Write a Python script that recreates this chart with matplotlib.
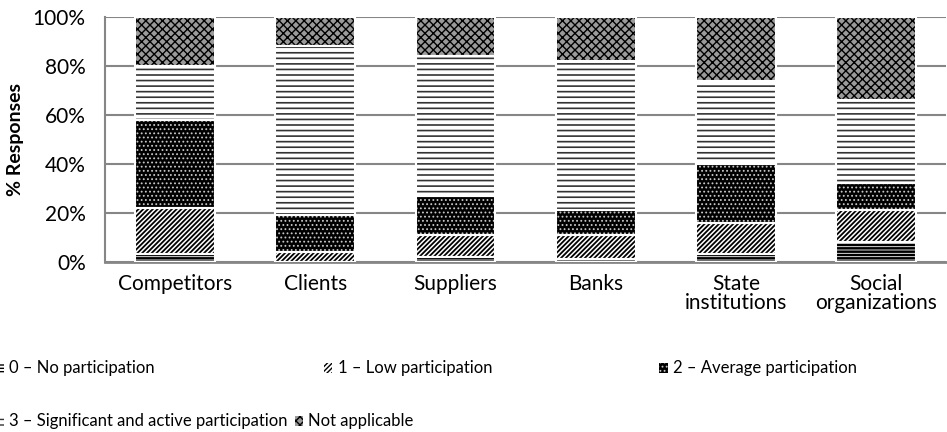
import numpy as np
import matplotlib.pyplot as plt
from matplotlib.patches import Rectangle

categories = ['Competitors', 'Clients', 'Suppliers', 'Banks', 'State\ninstitutions', 'Social\norganizations']
no_part = [3, 0, 2, 1, 3, 8]
low_part = [19, 4, 9, 10, 13, 13]
avg_part = [36, 15, 16, 10, 24, 11]
sig_part = [22, 69, 57, 61, 34, 34]
not_appl = [20, 12, 16, 18, 26, 34]

series = [no_part, low_part, avg_part, sig_part, not_appl]
labels = ['0 \u2013 No participation', '1 \u2013 Low participation', '2 \u2013 Average participation',
          '3 \u2013 Significant and active participation', 'Not applicable']
# face, hatch, hatch colour, hatch linewidth
styles = [
    ('white', '-----', 'black', 1.8),
    ('white', '///////', 'black', 1.3),
    ('black', '....', '#c8c8c8', 0.8),
    ('white', '---', '#333333', 1.2),
    ('#9a9a9a', 'xxxx', 'black', 1.0),
]

plt.rcParams['font.family'] = ['Lato', 'DejaVu Sans']

fig = plt.figure(figsize=(9.47, 4.32), dpi=100)
ax = fig.add_axes([0.111, 0.394, 0.888, 0.567])

x = np.arange(len(categories))
bottom = np.zeros(len(categories))
width = 0.57
for vals, (face, hatch, hc, hlw) in zip(series, styles):
    vals = np.array(vals, dtype=float)
    plt.rcParams['hatch.linewidth'] = hlw
    ax.bar(x, vals, width, bottom=bottom, color=face, hatch=hatch,
           edgecolor=hc, linewidth=0, zorder=3)
    ax.bar(x, vals, width, bottom=bottom, fill=False, edgecolor='white',
           linewidth=1.5, zorder=4)
    bottom += vals

ax.set_xlim(-0.5, len(categories) - 0.5)
ax.set_ylim(0, 100)
ax.set_yticks(np.arange(0, 101, 20))
ax.set_yticklabels([f'{v}%' for v in range(0, 101, 20)], fontsize=15)
ax.set_xticks(x)
ax.set_xticklabels(categories, fontsize=15, linespacing=0.95)
ax.tick_params(axis='x', length=0, pad=9)
ax.tick_params(axis='y', length=0, pad=14)
ax.yaxis.grid(True, color='#868686', linewidth=1.5, zorder=0)
ax.set_axisbelow(True)
for s in ['top', 'right']:
    ax.spines[s].set_visible(False)
ax.spines['left'].set_color('#868686')
ax.spines['left'].set_linewidth(1.5)
ax.spines['bottom'].set_color('#868686')
ax.spines['bottom'].set_linewidth(2)
ax.set_ylabel('% Responses', fontsize=14, fontweight='bold', va='center')
ax.yaxis.set_label_coords(-0.107, 0.5)

# legend laid out the way the source spreadsheet did it
leg_pos = [(0.0, 0.148), (0.347, 0.148), (0.701, 0.148), (0.0, 0.025), (0.316, 0.025)]
for (lx, ly), lab, (face, hatch, hc, hlw) in zip(leg_pos, labels, styles):
    plt.rcParams['hatch.linewidth'] = min(hlw, 1.0)
    fig.patches.append(Rectangle((lx - 0.005, ly - 0.011), 0.009, 0.022, transform=fig.transFigure,
                                 facecolor=face, hatch=hatch, edgecolor=hc, linewidth=0))
    fig.text(lx + 0.0095, ly, lab, fontsize=12, va='center', ha='left')

fig.savefig('out.png', dpi=100)
